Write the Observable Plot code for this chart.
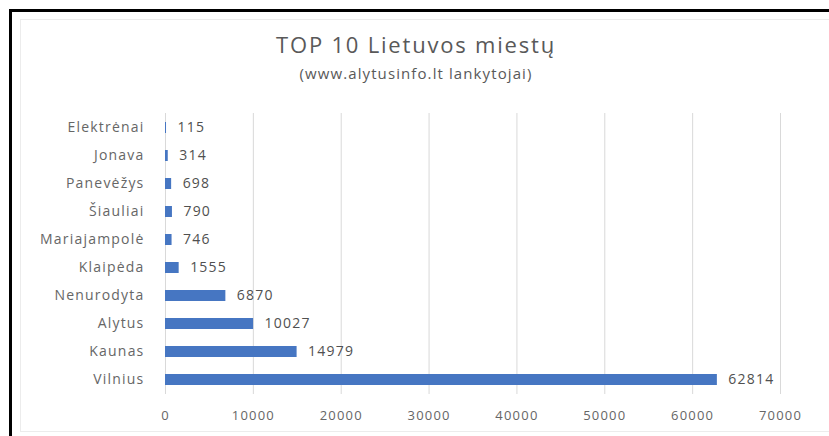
<!DOCTYPE html>
<html>
<head>
<meta charset="utf-8">
<script src="https://cdn.jsdelivr.net/npm/d3@7"></script>
<script src="https://cdn.jsdelivr.net/npm/@observablehq/plot@0.6"></script>
<style>
  html, body { margin: 0; padding: 0; background: #fff; overflow: hidden; }
  #wrap { position: relative; width: 829px; height: 436px; overflow: hidden; font-family: "Open Sans", sans-serif; }
  #frame { position: absolute; left: 9px; top: 9px; width: 830px; height: 440px; border-top: 3px solid #000; border-left: 3px solid #000; box-sizing: border-box; }
  #inner { position: absolute; left: 20px; top: 19px; width: 820px; height: 413px; border-top: 1px solid #ececec; border-left: 1px solid #ececec; border-bottom: 1px solid #ececec; box-sizing: border-box; }
  #title { position: absolute; left: 0; width: 832px; top: 29px; text-align: center; font-size: 22px; letter-spacing: 1.8px; color: #595959; white-space: nowrap; }
  #subtitle { position: absolute; left: 0; width: 832px; top: 63px; text-align: center; font-size: 15px; letter-spacing: 1.1px; color: #595959; white-space: nowrap; }
  #chart { position: absolute; left: 0; top: 100px; }
  #chart svg text { letter-spacing: 1.2px; }
</style>
</head>
<body>
<div id="wrap">
  <div id="frame"></div>
  <div id="inner"></div>
  <div id="title">TOP 10 Lietuvos miestų</div>
  <div id="subtitle">(www.alytusinfo.lt lankytojai)</div>
  <div id="chart"></div>
</div>
<script>
const cities = ["Elektrėnai", "Jonava", "Panevėžys", "Šiauliai", "Mariajampolė", "Klaipėda", "Nenurodyta", "Alytus", "Kaunas", "Vilnius"];
const visitors = [115, 314, 698, 790, 746, 1555, 6870, 10027, 14979, 62814];
const xTicks = [0, 10000, 20000, 30000, 40000, 50000, 60000, 70000];

const data = cities.map((c, i) => ({city: c, value: visitors[i]}));

const chart = Plot.plot({
  width: 829,
  height: 336,
  marginLeft: 165,
  marginRight: 49,
  marginTop: 13,
  marginBottom: 42,
  style: {fontFamily: "'Open Sans', sans-serif", background: "transparent"},
  x: {domain: [0, 70000]},
  y: {domain: cities, paddingInner: 0.6, paddingOuter: 0.3},
  marks: [
    Plot.gridX(xTicks, {stroke: "#d9d9d9", strokeOpacity: 1}),
    Plot.barX(data, {x: "value", y: "city", fill: "#4676c2"}),
    Plot.text(data, {x: "value", y: "city", text: d => String(d.value), textAnchor: "start", dx: 11, fontSize: 14, fill: "#505050"}),
    Plot.axisX(xTicks, {tickSize: 0, tickPadding: 16, tickFormat: d => String(d), fontSize: 13, color: "#666666", label: null}),
    Plot.axisY({tickSize: 0, tickPadding: 21, fontSize: 14, color: "#666666", label: null})
  ]
});
document.getElementById("chart").appendChild(chart);
</script>
</body>
</html>
